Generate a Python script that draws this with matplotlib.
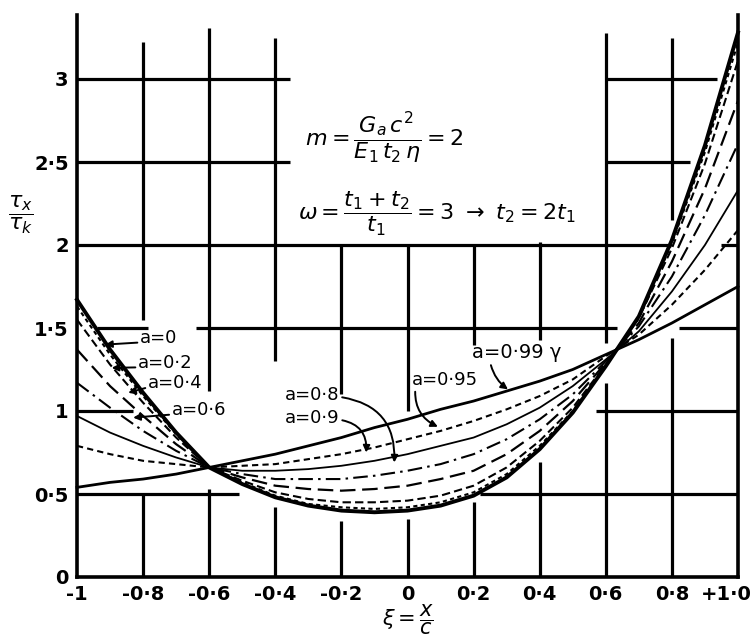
import matplotlib.pyplot as plt
from matplotlib.transforms import ScaledTranslation

xi = [-1.0, -0.9, -0.8, -0.7, -0.6, -0.5, -0.4, -0.3, -0.2, -0.1, 0.0,
      0.1, 0.2, 0.3, 0.4, 0.5, 0.6, 0.7, 0.8, 0.9, 1.0]

# tau_x / tau_k for each value of a
tau_a00 = [1.67, 1.37, 1.11, 0.87, 0.66, 0.56, 0.48, 0.43, 0.40, 0.39, 0.40,
           0.43, 0.49, 0.60, 0.77, 0.99, 1.27, 1.57, 2.03, 2.60, 3.28]
tau_a02 = [1.63, 1.34, 1.09, 0.86, 0.66, 0.57, 0.49, 0.44, 0.42, 0.41, 0.42,
           0.45, 0.51, 0.62, 0.79, 1.00, 1.27, 1.56, 2.01, 2.56, 3.22]
tau_a04 = [1.55, 1.28, 1.05, 0.84, 0.66, 0.58, 0.51, 0.47, 0.45, 0.45, 0.46,
           0.49, 0.55, 0.66, 0.82, 1.02, 1.28, 1.56, 1.98, 2.49, 3.11]
tau_a06 = [1.37, 1.15, 0.97, 0.80, 0.66, 0.60, 0.55, 0.53, 0.52, 0.53, 0.55,
           0.59, 0.64, 0.74, 0.88, 1.06, 1.29, 1.53, 1.90, 2.34, 2.87]
tau_a08 = [1.17, 1.02, 0.88, 0.76, 0.66, 0.62, 0.59, 0.59, 0.59, 0.61, 0.64,
           0.68, 0.74, 0.83, 0.95, 1.10, 1.30, 1.51, 1.81, 2.18, 2.61]
tau_a09 = [0.97, 0.87, 0.79, 0.72, 0.66, 0.64, 0.64, 0.65, 0.67, 0.70, 0.74,
           0.79, 0.84, 0.92, 1.02, 1.15, 1.31, 1.48, 1.72, 2.00, 2.33]
tau_a095 = [0.79, 0.74, 0.70, 0.68, 0.66, 0.67, 0.68, 0.71, 0.74, 0.78, 0.83,
            0.88, 0.94, 1.01, 1.09, 1.19, 1.33, 1.46, 1.64, 1.85, 2.09]
tau_a099 = [0.54, 0.57, 0.59, 0.62, 0.66, 0.70, 0.74, 0.79, 0.84, 0.90, 0.95,
            1.01, 1.06, 1.12, 1.18, 1.25, 1.34, 1.43, 1.53, 1.64, 1.75]

x_ticks = [-1.0, -0.8, -0.6, -0.4, -0.2, 0.0, 0.2, 0.4, 0.6, 0.8, 1.0]
x_tick_labels = ['-1', '-0·8', '-0·6', '-0·4', '-0·2', '0', '0·2', '0·4',
                 '0·6', '0·8', '+1·0']
y_ticks = [0, 0.5, 1.0, 1.5, 2.0, 2.5, 3.0]
y_tick_labels = ['0', '0·5', '1', '1·5', '2', '2·5', '3']

curve_labels = ['a=0', 'a=0·2', 'a=0·4', 'a=0·6', 'a=0·8', 'a=0·9',
                'a=0·95', 'a=0·99 γ']

# hand-drawn grid: broken line segments (data coords)
hgrid = {
    0.5: [(-1.0, -0.51), (0.22, 1.0)],
    1.0: [(-1.0, -0.83), (0.57, 1.0)],
    1.5: [(-0.94, -0.785), (-0.64, 0.635), (0.82, 1.0)],
    2.0: [(-1.0, 0.79), (0.95, 1.0)],
    2.5: [(-1.0, -0.357), (0.6, 0.855)],
    3.0: [(-1.0, -0.357), (0.6, 0.937)],
}
vgrid = {
    -0.8: [(0.0, 0.5), (1.55, 3.22)],
    -0.6: [(0.0, 0.53), (1.12, 3.31)],
    -0.4: [(0.0, 0.42), (1.30, 3.25)],
    -0.2: [(0.0, 0.34), (1.10, 2.0)],
    0.0: [(0.0, 0.35), (1.0, 2.0)],
    0.2: [(0.0, 0.45), (1.40, 2.0)],
    0.4: [(0.0, 0.69), (1.43, 2.02)],
    0.6: [(0.0, 1.17), (1.41, 3.28)],
    0.8: [(0.0, 1.44), (2.15, 3.25)],
}

series = [
    (tau_a00, dict(color='k', lw=2.8, ls='-')),
    (tau_a02, dict(color='k', lw=1.5, ls=(0, (2.0, 1.6)))),
    (tau_a04, dict(color='k', lw=1.5, ls=(0, (4.0, 2.0)))),
    (tau_a06, dict(color='k', lw=1.6, ls=(0, (7.0, 3.0)))),
    (tau_a08, dict(color='k', lw=1.5, ls=(0, (7.0, 2.5, 1.2, 2.5)))),
    (tau_a09, dict(color='k', lw=1.3, ls='-')),
    (tau_a095, dict(color='k', lw=1.5, ls=(0, (3.0, 2.0)))),
    (tau_a099, dict(color='k', lw=2.0, ls='-')),
]

fig = plt.figure(figsize=(7.54, 6.43), dpi=100)
ax = fig.add_axes([77 / 754, 66 / 643, 661 / 754, 562 / 643])
ax.set_xlim(-1.0, 1.0)
ax.set_ylim(0, 562 / 166)

for y, segs in hgrid.items():
    for x0, x1 in segs:
        ax.plot([x0, x1], [y, y], color='k', lw=2.3, solid_capstyle='butt', zorder=1)
for x, segs in vgrid.items():
    for y0, y1 in segs:
        ax.plot([x, x], [y0, y1], color='k', lw=2.3, solid_capstyle='butt', zorder=1)

for vals, style in series:
    ax.plot(xi, vals, zorder=3, clip_on=False, solid_joinstyle='round', **style)

# spines
ax.spines['top'].set_visible(False)
for side in ['left', 'right', 'bottom']:
    ax.spines[side].set_linewidth(2.6)

ax.set_xticks(x_ticks)
ax.set_xticklabels(x_tick_labels, fontsize=14, fontweight='bold')
ax.set_yticks(y_ticks)
ax.set_yticklabels(y_tick_labels, fontsize=14, fontweight='bold')
ax.tick_params(length=0)
ax.tick_params(axis='x', pad=6)
ax.tick_params(axis='y', pad=6)

# the last x label sits a little left of its tick, as in the drawing
last = ax.get_xticklabels()[-1]
last.set_transform(last.get_transform() + ScaledTranslation(-12 / 100, 0, fig.dpi_scale_trans))

ax.text(-1.17, 2.18, r'$\dfrac{\tau_x}{\tau_k}$', fontsize=16, ha='center',
        va='center', clip_on=False)
ax.text(0.0, -0.26, r'$\xi=\dfrac{x}{c}$', fontsize=15, ha='center',
        va='center', clip_on=False)

# parameter notes
ax.text(-0.31, 2.645, r'$m=\dfrac{G_a\,c^2}{E_1\,t_2\,\eta}=2$', fontsize=16,
        ha='left', va='center')
ax.text(-0.33, 2.19, r'$\omega=\dfrac{t_1+t_2}{t_1}=3\ \rightarrow\ t_2=2t_1$',
        fontsize=16, ha='left', va='center')

# labels with straight arrows on the left bundle
arrow_kw = dict(arrowstyle='-|>', lw=1.4, color='k', mutation_scale=10,
                shrinkA=0, shrinkB=0)
left_labels = [
    (curve_labels[0], (-0.809, 1.44), (-0.915, 1.40)),
    (curve_labels[1], (-0.815, 1.29), (-0.895, 1.26)),
    (curve_labels[2], (-0.785, 1.17), (-0.845, 1.11)),
    (curve_labels[3], (-0.713, 1.006), (-0.83, 0.96)),
]
for text, pos, head in left_labels:
    ax.annotate(text, xy=head, xytext=pos, fontsize=13, ha='left', va='center',
                arrowprops=dict(relpos=(0, 0.25), **arrow_kw))

ax.annotate(curve_labels[4], xy=(-0.04, 0.69), xytext=(-0.371, 1.096),
            fontsize=13, ha='left', va='center',
            arrowprops=dict(relpos=(1, 0.4), connectionstyle='arc3,rad=-0.45', **arrow_kw))
ax.annotate(curve_labels[5], xy=(-0.125, 0.75), xytext=(-0.371, 0.958),
            fontsize=13, ha='left', va='center',
            arrowprops=dict(relpos=(1, 0.4), connectionstyle='arc3,rad=-0.45', **arrow_kw))
ax.annotate(curve_labels[6], xy=(0.092, 0.905), xytext=(0.014, 1.187),
            fontsize=13, ha='left', va='center',
            arrowprops=dict(relpos=(0.05, 0.1), connectionstyle='arc3,rad=0.35', **arrow_kw))
ax.annotate(curve_labels[7], xy=(0.304, 1.13), xytext=(0.195, 1.35),
            fontsize=14, ha='left', va='center',
            arrowprops=dict(relpos=(0.2, 0.1), connectionstyle='arc3,rad=0.2', **arrow_kw))

fig.savefig('out.png', dpi=100)
